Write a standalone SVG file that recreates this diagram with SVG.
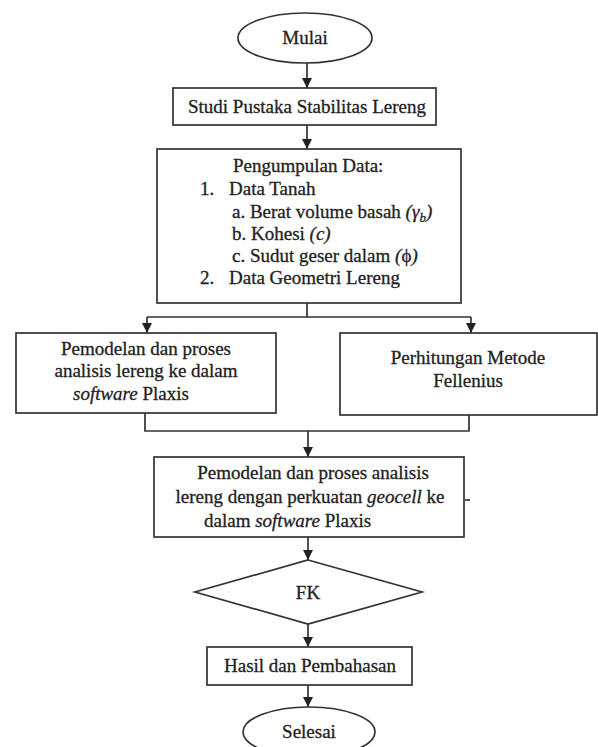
<svg xmlns="http://www.w3.org/2000/svg" width="598" height="747" viewBox="0 0 598 747">
<style>
.s{fill:#fff;stroke:#333;stroke-width:1.7}
.t{font-family:"Liberation Serif","Times New Roman",serif;font-size:19px;fill:#222;stroke:#222;stroke-width:0.3}
.c{text-anchor:middle}
.i{font-style:italic}
.l{fill:none;stroke:#333;stroke-width:1.7}
</style>
<defs>
<marker id="a" viewBox="0 0 10 10" refX="10" refY="5" markerWidth="10" markerHeight="10" markerUnits="userSpaceOnUse" orient="auto">
<path d="M0,0 L10,5 L0,10 Z" fill="#222"/>
</marker>
</defs>
<rect width="598" height="747" fill="#fff"/>
<g id="connectors">
<path class="l" d="M307,63 V88" marker-end="url(#a)"/>
<path class="l" d="M307,125 V149" marker-end="url(#a)"/>
<path class="l" d="M307,303 V317 M147,317 H471"/>
<path class="l" d="M147,317 V333" marker-end="url(#a)"/>
<path class="l" d="M471,317 V333" marker-end="url(#a)"/>
<path class="l" d="M145,413 V431 H469 V415"/>
<path class="l" d="M308,431 V457" marker-end="url(#a)"/>
<path class="l" d="M308,537 V560" marker-end="url(#a)"/>
<path class="l" d="M308,624 V647" marker-end="url(#a)"/>
<path class="l" d="M308,685 V707" marker-end="url(#a)"/>
</g>
<g id="mulai">
<ellipse class="s" cx="305" cy="38" rx="67" ry="25"/>
<text class="t c" x="305" y="44">Mulai</text>
</g>
<g id="studi">
<rect class="s" x="173" y="88" width="263" height="37"/>
<text class="t c" x="307" y="113">Studi Pustaka Stabilitas Lereng</text>
</g>
<g id="pengumpulan">
<rect class="s" x="157" y="149" width="304" height="154"/>
<text class="t" x="233" y="172">Pengumpulan Data:</text>
<text class="t" x="200" y="195">1.</text>
<text class="t" x="229" y="195">Data Tanah</text>
<text class="t" x="232" y="218">a. Berat volume basah <tspan class="i">(γ<tspan font-size="13" dy="4">b</tspan><tspan dy="-4">)</tspan></tspan></text>
<text class="t" x="232" y="240">b. Kohesi <tspan class="i">(c)</tspan></text>
<text class="t" x="232" y="262">c. Sudut geser dalam <tspan class="i">(</tspan>ϕ<tspan class="i">)</tspan></text>
<text class="t" x="200" y="284">2.</text>
<text class="t" x="229" y="284">Data Geometri Lereng</text>
</g>
<g id="plaxis">
<rect class="s" x="16" y="333" width="260" height="80"/>
<text class="t c" x="146" y="355">Pemodelan dan proses</text>
<text class="t c" x="146" y="377">analisis lereng ke dalam</text>
<text class="t" x="73" y="400"><tspan class="i">software</tspan> Plaxis</text>
</g>
<g id="fellenius">
<rect class="s" x="340" y="333" width="257" height="82"/>
<text class="t c" x="468" y="364">Perhitungan Metode</text>
<text class="t c" x="468" y="387">Fellenius</text>
</g>
<g id="geocell">
<rect class="s" x="154" y="457" width="310" height="80"/>
<text class="t c" x="313" y="479">Pemodelan dan proses analisis</text>
<text class="t c" x="310" y="503">lereng dengan perkuatan <tspan class="i">geocell</tspan> ke</text>
<text class="t" x="204" y="527">dalam <tspan class="i">software</tspan> Plaxis</text>
<path class="l" d="M465,500 H470" stroke-width="1"/>
</g>
<g id="fk">
<polygon class="s" points="308,560 422,592 308,624 195,592"/>
<text class="t c" x="308" y="599">FK</text>
</g>
<g id="hasil">
<rect class="s" x="207" y="647" width="205" height="38"/>
<text class="t c" x="310" y="672">Hasil dan Pembahasan</text>
</g>
<g id="selesai">
<ellipse class="s" cx="309" cy="732" rx="66" ry="25"/>
<text class="t c" x="309" y="738">Selesai</text>
</g>
</svg>
